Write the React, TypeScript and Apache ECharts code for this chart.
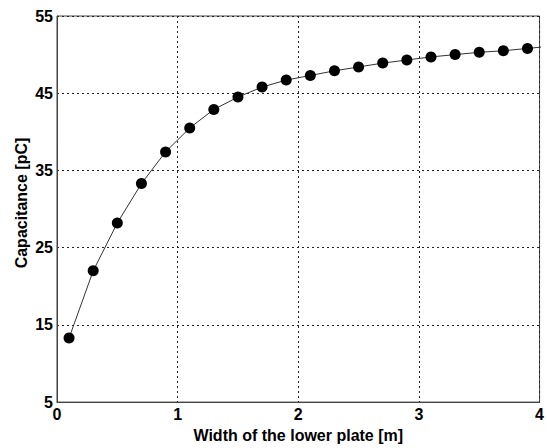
import React, { useEffect, useRef } from "react";
import * as echarts from "echarts";

const widths = [0.1, 0.3, 0.5, 0.7, 0.9, 1.1, 1.3, 1.5, 1.7, 1.9, 2.1, 2.3, 2.5, 2.7, 2.9, 3.1, 3.3, 3.5, 3.7, 3.9, 4.1];
const capacitance = [13.3, 22.0, 28.2, 33.3, 37.4, 40.5, 42.9, 44.5, 45.8, 46.7, 47.3, 47.9, 48.4, 48.9, 49.3, 49.7, 50.0, 50.3, 50.5, 50.8, 51.1];
const xTicks = [0, 1, 2, 3, 4];
const yTicks = [5, 15, 25, 35, 45, 55];

const FONT = "Liberation Sans, Arial, sans-serif";

export default function App() {
  const ref = useRef<HTMLDivElement>(null);
  useEffect(() => {
    if (!ref.current) return;
    const chart = echarts.init(ref.current, undefined, { renderer: "svg" });
    const grid = { left: 57, right: 3, top: 16, bottom: 42 };
    const gridLine = { show: true, lineStyle: { color: "#222", width: 1, type: [2, 3] as any } };
    chart.setOption({
      animation: false,
      backgroundColor: "#fff",
      grid: { ...grid, show: true, borderColor: "#444", borderWidth: 1, backgroundColor: "transparent" },
      xAxis: {
        type: "value",
        min: xTicks[0],
        max: xTicks[xTicks.length - 1],
        interval: 1,
        axisLine: { show: true, onZero: false, lineStyle: { color: "#444", width: 1 } },
        axisTick: { show: false },
        splitLine: gridLine,
        axisLabel: { color: "#000", fontFamily: FONT, fontWeight: "bold", fontSize: 16, margin: 4 },
        name: "Width of the lower plate [m]",
        nameLocation: "middle",
        nameGap: 22,
        nameTextStyle: { color: "#000", fontFamily: FONT, fontWeight: "bold", fontSize: 16 },
      },
      yAxis: {
        type: "value",
        min: yTicks[0],
        max: yTicks[yTicks.length - 1],
        interval: 10,
        axisLine: { show: true, lineStyle: { color: "#444", width: 1 } },
        axisTick: { show: false },
        splitLine: gridLine,
        axisLabel: { color: "#000", fontFamily: FONT, fontWeight: "bold", fontSize: 16, margin: 4 },
      },
      graphic: [
        {
          type: "text",
          x: 21,
          y: 203,
          rotation: Math.PI / 2,
          style: {
            text: "Capacitance [pC]",
            fill: "#000",
            font: `bold 16px ${FONT}`,
            textAlign: "center",
            textVerticalAlign: "middle",
          },
        },
      ],
      series: [
        {
          type: "line",
          data: widths.map((w, i) => [w, capacitance[i]]),
          clip: true,
          symbol: "circle",
          symbolSize: 11,
          showAllSymbol: true,
          itemStyle: { color: "#000" },
          lineStyle: { color: "#333", width: 1 },
        },
      ],
    });
    return () => chart.dispose();
  }, []);
  return (
    <div
      ref={ref}
      style={{ position: "fixed", left: 0, top: 0, width: 547, height: 448 }}
    />
  );
}
